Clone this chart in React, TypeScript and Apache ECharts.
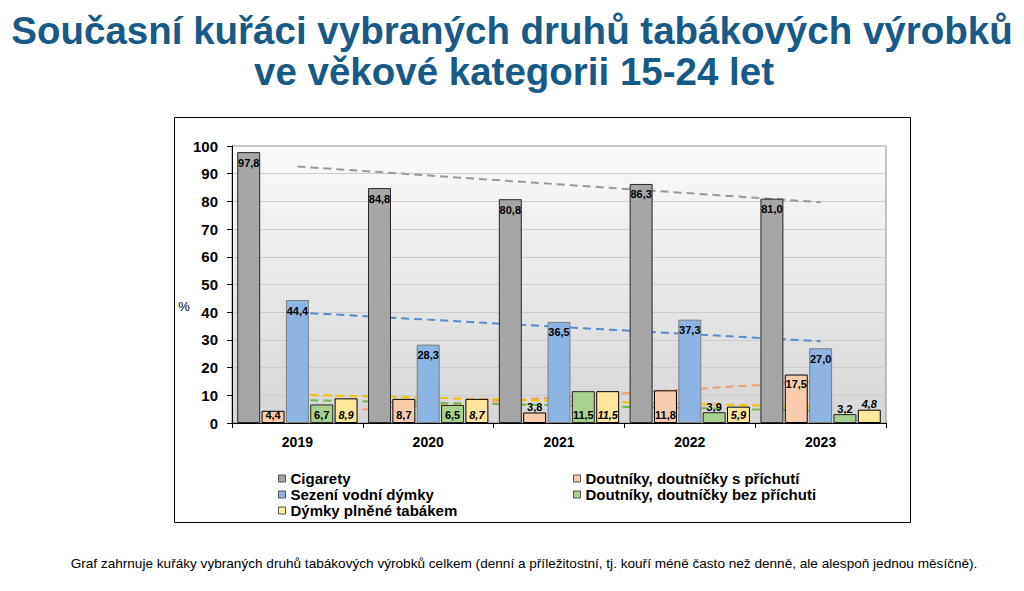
import { useEffect, useRef } from "react";
import * as echarts from "echarts";

const YEARS = ["2019", "2020", "2021", "2022", "2023"];

const SERIES_NAMES = [
  "Cigarety",
  "Doutníky, doutníčky s příchutí",
  "Sezení vodní dýmky",
  "Doutníky, doutníčky bez příchuti",
  "Dýmky plněné tabákem",
];

const CIGARETY = [97.8, 84.8, 80.8, 86.3, 81.0];
const DOUTNIKY_S = [4.4, 8.7, 3.8, 11.8, 17.5];
const VODNI_DYMKY = [44.4, 28.3, 36.5, 37.3, 27.0];
const DOUTNIKY_BEZ = [6.7, 6.5, 11.5, 3.9, 3.2];
const DYMKY = [8.9, 8.7, 11.5, 5.9, 4.8];

// trend line end points (2019 -> 2023)
const TREND_CIGARETY = [92.6, 79.7];
const TREND_DOUTNIKY_S = [3.4, 15.1];
const TREND_VODNI_DYMKY = [39.9, 29.5];
const TREND_DOUTNIKY_BEZ = [8.3, 4.4];
const TREND_DYMKY = [10.2, 5.8];

const Y_TICKS = [0, 10, 20, 30, 40, 50, 60, 70, 80, 90, 100];

const TITLE_1 = "Současní kuřáci vybraných druhů tabákových výrobků";
const TITLE_2 = "ve věkové kategorii 15-24 let";
const FOOTNOTE =
  "Graf zahrnuje kuřáky vybraných druhů tabákových výrobků celkem (denní a příležitostní, tj. kouří méně často než denně, ale alespoň jednou měsíčně).";

const FONT = "'Liberation Sans', Arial, sans-serif";

const STYLES = [
  { fill: "#a6a6a6", border: "#262626", line: "#9a9a9a", kind: "big" },
  { fill: "#f8cbad", border: "#000000", line: "#f0a070", kind: "small" },
  { fill: "#8db4e2", border: "#7f7f7f", line: "#5a8ed0", kind: "big" },
  { fill: "#a9d18e", border: "#262626", line: "#72b850", kind: "small" },
  { fill: "#ffe699", border: "#000000", line: "#f5c000", kind: "small" },
];

const fmt = (v: number) => v.toFixed(1).replace(".", ",");

const smallLabel = (v: number, minInside: number) => {
  if (v >= 15) return { position: "insideTop", distance: 4 };
  if (v >= minInside) return { position: "insideBottom", distance: 3 };
  return { position: "top", distance: 0 };
};

const App = () => {
  const chartRef = useRef<HTMLDivElement>(null);

  useEffect(() => {
    if (!chartRef.current) return;
    document.body.style.margin = "0";
    const chart = echarts.init(chartRef.current, undefined, { renderer: "svg" });

    const values = [CIGARETY, DOUTNIKY_S, VODNI_DYMKY, DOUTNIKY_BEZ, DYMKY];
    const trends = [TREND_CIGARETY, TREND_DOUTNIKY_S, TREND_VODNI_DYMKY, TREND_DOUTNIKY_BEZ, TREND_DYMKY];

    const barSeries = values.map((vals, i) => {
      const st = STYLES[i];
      const italic = i === 4;
      return {
        name: SERIES_NAMES[i],
        type: "bar",
        z: 3,
        barGap: "6%",
        barCategoryGap: "8%",
        itemStyle: { color: st.fill, borderColor: st.border, borderWidth: 1 },
        label: {
          show: true,
          position: "insideTop",
          distance: 5,
          formatter: (p: any) => fmt(p.value),
          fontFamily: FONT,
          fontSize: 11,
          fontWeight: "bold",
          fontStyle: italic ? "italic" : "normal",
          color: "#000",
        },
        data: vals.map((v) => {
          if (st.kind === "big") return v;
          const lp = smallLabel(v, i === 1 ? 4 : 5);
          return { value: v, label: lp };
        }),
      };
    });

    const trendSeries = trends.map((t, i) => ({
      name: "trend " + SERIES_NAMES[i],
      type: "line",
      z: 1,
      symbol: "none",
      silent: true,
      lineStyle: { color: STYLES[i].line, width: 2, type: [8, 5] },
      data: [
        [YEARS[0], t[0]],
        [YEARS[YEARS.length - 1], t[1]],
      ],
    }));

    const legendText = { fontFamily: FONT, fontSize: 15, fontWeight: "bold", color: "#000", lineHeight: 14 };
    const legendBase = {
      orient: "vertical",
      top: 471,
      padding: 0,
      itemGap: 1,
      itemWidth: 7,
      itemHeight: 7,
      icon: "rect",
      selectedMode: false,
      textStyle: legendText,
      itemStyle: { borderColor: "#555", borderWidth: 1 },
    };

    const option: any = {
      animation: false,
      textStyle: { fontFamily: FONT },
      graphic: [
        {
          type: "rect",
          shape: { x: 174.5, y: 117.5, width: 736, height: 405 },
          style: { fill: "none", stroke: "#000", lineWidth: 1 },
          silent: true,
        },
        {
          type: "text",
          x: 512,
          y: 30,
          style: {
            text: TITLE_1,
            fontFamily: FONT,
            fontSize: 38.5,
            fontWeight: "bold",
            fill: "#185a87",
            textAlign: "center",
            textVerticalAlign: "middle",
          },
        },
        {
          type: "text",
          x: 514,
          y: 71,
          style: {
            text: TITLE_2,
            fontFamily: FONT,
            fontSize: 38.5,
            fontWeight: "bold",
            fill: "#185a87",
            textAlign: "center",
            textVerticalAlign: "middle",
          },
        },
        {
          type: "text",
          x: 184,
          y: 306,
          style: {
            text: "%",
            fontFamily: FONT,
            fontSize: 13,
            fill: "#000",
            textAlign: "center",
            textVerticalAlign: "middle",
          },
        },
        {
          type: "text",
          x: 524,
          y: 563,
          style: {
            text: FOOTNOTE,
            fontFamily: FONT,
            fontSize: 13.6,
            fill: "#000",
            textAlign: "center",
            textVerticalAlign: "middle",
          },
        },
      ],
      legend: [
        { ...legendBase, data: [SERIES_NAMES[0], SERIES_NAMES[2], SERIES_NAMES[4]], left: 278 },
        { ...legendBase, data: [SERIES_NAMES[1], SERIES_NAMES[3]], left: 573 },
      ],
      grid: {
        left: 232,
        right: 1024 - 886,
        top: 146,
        bottom: 591 - 423,
        show: true,
        borderColor: "#8c8c8c",
        borderWidth: 1,
        backgroundColor: new echarts.graphic.LinearGradient(0, 0, 0, 1, [
          { offset: 0, color: "#fafafa" },
          { offset: 1, color: "#d6d6d6" },
        ]),
      },
      xAxis: {
        type: "category",
        data: YEARS,
        axisLine: { lineStyle: { color: "#000", width: 1 } },
        axisTick: { show: true, length: 5, lineStyle: { color: "#000" } },
        axisLabel: { fontFamily: FONT, fontSize: 14, fontWeight: "bold", color: "#000", margin: 12 },
      },
      yAxis: {
        type: "value",
        min: Y_TICKS[0],
        max: Y_TICKS[Y_TICKS.length - 1],
        interval: Y_TICKS[1] - Y_TICKS[0],
        axisLine: { show: true, lineStyle: { color: "#000", width: 1 } },
        axisTick: { show: true, length: 5, lineStyle: { color: "#000" } },
        axisLabel: { fontFamily: FONT, fontSize: 15, fontWeight: "bold", color: "#000", margin: 14 },
        splitLine: { show: true, lineStyle: { color: "#cccccc", width: 1 } },
      },
      series: [...trendSeries, ...barSeries],
    };

    chart.setOption(option);

    return () => {
      chart.dispose();
    };
  }, []);

  return <div ref={chartRef} style={{ width: "1024px", height: "591px" }} />;
};

export default App;
